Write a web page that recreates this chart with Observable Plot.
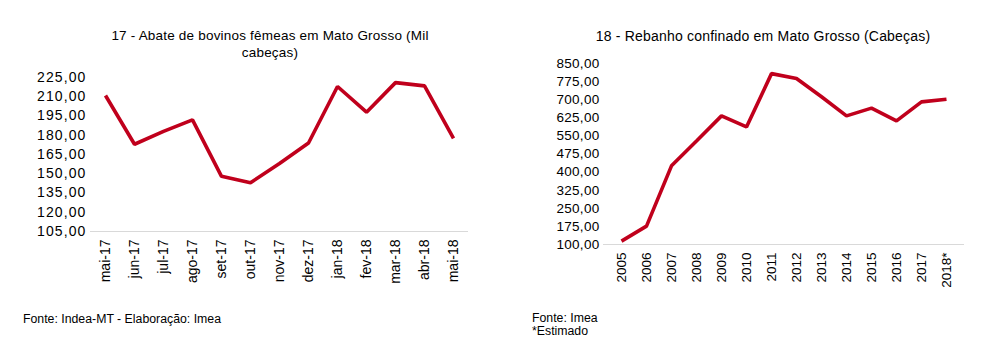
<!DOCTYPE html>
<html>
<head>
<meta charset="utf-8">
<script src="https://cdn.jsdelivr.net/npm/d3@7"></script>
<script src="https://cdn.jsdelivr.net/npm/@observablehq/plot@0.6"></script>
<style>
  html, body { margin: 0; padding: 0; background: #fff; }
  body { width: 995px; height: 361px; position: relative; overflow: hidden; font-family: "Liberation Sans", Arial, sans-serif; color: #000; }
  .abs { position: absolute; }
  .title { text-align: center; font-size: 13.5px; line-height: 17px; }
  .foot { font-size: 12.3px; line-height: 13px; }
  svg { overflow: visible; }
  #c1 g[aria-label="y-axis tick label"] { letter-spacing: 1.1px; }
  #c2 g[aria-label="y-axis tick label"] { letter-spacing: 0.3px; }
</style>
</head>
<body>
<div class="abs title" id="t1" style="left:95px; top:27px; width:350px; letter-spacing:0.2px;">17 - Abate de bovinos fêmeas em Mato Grosso (Mil cabeças)</div>
<div class="abs title" id="t2" style="left:563px; top:28px; width:400px; font-size:14px; letter-spacing:0.2px;">18 - Rebanho confinado em Mato Grosso (Cabeças)</div>
<div class="abs" id="c1" style="left:0px; top:60px;"></div>
<div class="abs" id="c2" style="left:520px; top:50px;"></div>
<div class="abs foot" style="left:23px; top:313px;">Fonte: Indea-MT - Elaboração: Imea</div>
<div class="abs foot" style="left:532px; top:312px;">Fonte: Imea<br>*Estimado</div>
<script>
const months = ["mai-17","jun-17","jul-17","ago-17","set-17","out-17","nov-17","dez-17","jan-18","fev-18","mar-18","abr-18","mai-18"];
const abateFemeas = [211, 173, 183, 192, 148, 143, 158, 174, 218, 198, 221, 218.5, 177.5];
const leftTicks = [105,120,135,150,165,180,195,210,225];

const years = ["2005","2006","2007","2008","2009","2010","2011","2012","2013","2014","2015","2016","2017","2018*"];
const rebanhoConfinado = [114, 176, 426, 529, 633, 587, 808, 788, 712, 633, 665, 612, 691, 702];
const rightTicks = [100,175,250,325,400,475,550,625,700,775,850];

const fmt = d => d.toFixed(2).replace(".", ",");
const red = "#c0001c";

const d1 = months.map((m, i) => ({m, v: abateFemeas[i]}));
const p1 = Plot.plot({
  width: 480, height: 226,
  marginLeft: 90, marginRight: 12, marginTop: 17, marginBottom: 55,
  style: {fontFamily: "'Liberation Sans', Arial, sans-serif", fontSize: "14px", color: "#000", background: "transparent"},
  x: {type: "point", domain: months, padding: 0.5, label: null, tickSize: 0, tickPadding: 8, tickRotate: -90},
  y: {domain: [105, 225], ticks: leftTicks, tickFormat: fmt, label: null, tickSize: 0, tickPadding: 4},
  marks: [
    Plot.ruleY([105], {stroke: "#d9d9d9", strokeWidth: 1}),
    Plot.line(d1, {x: "m", y: "v", stroke: red, strokeWidth: 3.6, strokeLinejoin: "miter", strokeLinecap: "butt"})
  ]
});
document.getElementById("c1").appendChild(p1);

const d2 = years.map((y, i) => ({y, v: rebanhoConfinado[i]}));
const p2 = Plot.plot({
  width: 455, height: 254,
  marginLeft: 83, marginRight: 11, marginTop: 13, marginBottom: 60,
  style: {fontFamily: "'Liberation Sans', Arial, sans-serif", fontSize: "13.5px", color: "#000", background: "transparent"},
  x: {type: "point", domain: years, padding: 0.5, label: null, tickSize: 0, tickPadding: 8, tickRotate: -90},
  y: {domain: [100, 850], ticks: rightTicks, tickFormat: fmt, label: null, tickSize: 0, tickPadding: 4},
  marks: [
    Plot.ruleY([100], {stroke: "#d9d9d9", strokeWidth: 1}),
    Plot.line(d2, {x: "y", y: "v", stroke: red, strokeWidth: 3.6, strokeLinejoin: "miter", strokeLinecap: "butt"})
  ]
});
document.getElementById("c2").appendChild(p2);
</script>
</body>
</html>
